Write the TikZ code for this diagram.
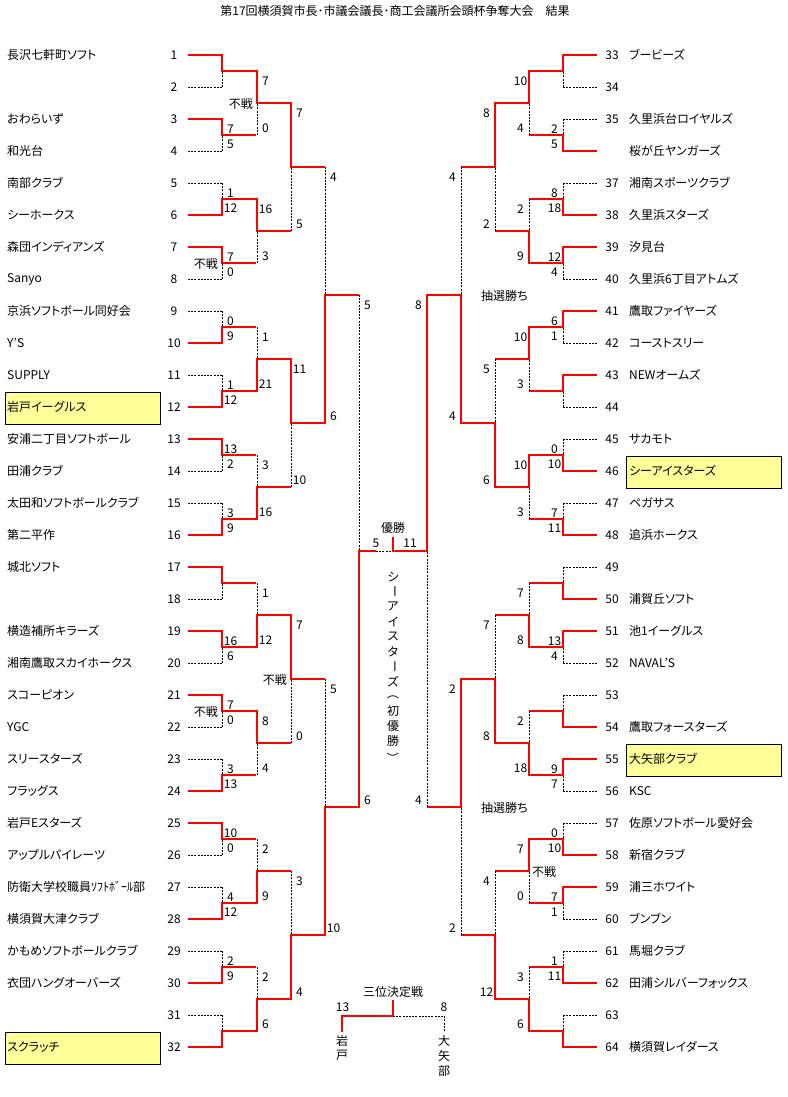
\documentclass[tikz,border=0pt]{standalone}
\usepackage{fontspec}
\setmainfont[RawFeature=+palt]{Noto Sans CJK JP}

\definecolor{hiyellow}{HTML}{FFFF99}

\tikzset{
  win/.style={red, line width=2.6pt},
  lose/.style={black, line width=0.9pt, dash pattern=on 2pt off 1.2pt},
  hilite/.style={draw=black, line width=1pt, fill=hiyellow},
}

\newcommand{\bmatch}[4]{%
  \pgfmathsetmacro{\bmid}{(#2+#3)/2}
  \draw[win] (#1-34*#4,#2) -- (#1,#2) -- (#1,\bmid) -- (#1+34*#4,\bmid);
  \draw[lose] (#1,#3) -- (#1,\bmid);
}
\newcommand{\bleaf}[4]{%
  \bmatch{#1}{#2}{#3}{#4}
  \draw[lose] (#1-34*#4,#3) -- (#1,#3);
}
\newcommand{\bscore}[6]{%
  \pgfmathsetmacro{\wy}{ifthenelse(#2<#3,#2+10,#2-6.5)}
  \pgfmathsetmacro{\ly}{ifthenelse(#3<#2,#3+10,#3-6.5)}
  \node (sw#1-#2) at (#1+8.5*#6,\wy) {#4};
  \node (sl#1-#3) at (#1+8.5*#6,\ly) {#5};
}

\begin{document}
\begin{tikzpicture}[x=1pt, y=-1pt, font=\fontsize{12}{14}\selectfont,
  every node/.style={inner sep=0pt}]

\useasboundingbox (0,0) rectangle (787,1097);

\node (title) at (395,11) {第17回横須賀市長･市議会議長･商工会議所会頭杯争奪大会　結果};

\foreach \y in {407,1047} \draw[hilite] (5,\y-15) rectangle (160.5,\y+17);
\foreach \y in {471,759} \draw[hilite] (626,\y-15) rectangle (781.5,\y+17);

\foreach \k in {1,...,32} \node (ln\k) at (174,{55+32*(\k-1)}) {\k};
\foreach \k in {33,34,35,37,38,...,64} \node (rn\k) at (612,{55+32*(\k-33)}) {\k};

\foreach \k/\t in {1/長沢七軒町ソフト, 3/おわらいず, 4/和光台, 5/南部クラブ, 6/シーホークス,
  7/森団インディアンズ, 8/Sanyo, 9/京浜ソフトボール同好会, 10/Y’S, 11/SUPPLY, 12/岩戸イーグルス,
  13/安浦二丁目ソフトボール, 14/田浦クラブ, 15/太田和ソフトボールクラブ, 16/第二平作, 17/城北ソフト,
  19/横造補所キラーズ, 20/湘南鷹取スカイホークス, 21/スコーピオン, 22/YGC, 23/スリースターズ,
  24/フラッグス, 25/岩戸Eスターズ, 26/アップルパイレーツ, 27/防衛大学校職員ｿﾌﾄﾎﾞｰﾙ部,
  28/横須賀大津クラブ, 29/かもめソフトボールクラブ, 30/衣団ハングオーバーズ, 32/スクラッチ}
  \node[anchor=west] (lt\k) at (7,{55+32*(\k-1)}) {\t};

\foreach \k/\t in {33/ブービーズ, 35/久里浜台ロイヤルズ, 36/桜が丘ヤンガーズ, 37/湘南スポーツクラブ,
  38/久里浜スターズ, 39/汐見台, 40/久里浜6丁目アトムズ, 41/鷹取ファイヤーズ, 42/コーストスリー,
  43/NEWオームズ, 45/サカモト, 46/シーアイスターズ, 47/ペガサス, 48/追浜ホークス, 50/浦賀丘ソフト,
  51/池1イーグルス, 52/NAVAL’S, 54/鷹取フォースターズ, 55/大矢部クラブ, 56/KSC,
  57/佐原ソフトボール愛好会, 58/新宿クラブ, 59/浦三ホワイト, 60/ブンブン, 61/馬堀クラブ,
  62/田浦シルバーフォックス, 64/横須賀レイダース}
  \node[anchor=west] (rt\k) at (629,{55+32*(\k-33)}) {\t};

\foreach \w/\l in {55/87, 119/151, 215/183, 247/279, 343/311, 407/375, 439/471, 535/503,
  567/599, 631/663, 695/727, 791/759, 823/855, 919/887, 983/951, 1047/1015}
  \bleaf{222}{\w}{\l}{1};
\foreach \w/\l in {71/135, 199/263, 391/327, 519/455, 647/583, 711/775, 903/839, 1031/967}
  \bmatch{257}{\w}{\l}{1};
\foreach \w/\l in {103/231, 359/487, 615/743, 999/871} \bmatch{291}{\w}{\l}{1};
\foreach \w/\l in {423/167, 935/679} \bmatch{325}{\w}{\l}{1};

\foreach \w/\l in {55/87, 151/119, 215/183, 247/279, 311/343, 375/407, 471/439, 535/503,
  599/567, 631/663, 727/695, 759/791, 855/823, 887/919, 983/951, 1047/1015}
  \bleaf{563}{\w}{\l}{-1};
\foreach \w/\l in {71/135, 263/199, 327/391, 455/519, 647/583, 775/711, 839/903, 1031/967}
  \bmatch{529}{\w}{\l}{-1};
\foreach \w/\l in {103/231, 487/359, 743/615, 999/871} \bmatch{495}{\w}{\l}{-1};
\foreach \w/\l in {423/167, 679/935} \bmatch{461}{\w}{\l}{-1};

\draw[win] (325,807) -- (359,807) -- (359,551) -- (376,551);
\draw[lose] (376,551) -- (393,551);
\draw[lose] (359,295) -- (359,551);
\draw[win] (461,295) -- (427,295) -- (427,551) -- (393,551) -- (393,537);
\draw[lose] (427,807) -- (427,551);

\foreach \w/\l/\a/\b in {119/151/7/5, 215/183/12/1, 247/279/7/0, 343/311/9/0, 407/375/12/1,
  439/471/13/2, 535/503/9/3, 631/663/16/6, 695/727/7/0, 791/759/13/3, 823/855/10/0,
  919/887/12/4, 983/951/9/2}
  \bscore{222}{\w}{\l}{\a}{\b}{1};
\foreach \w/\l/\a/\b in {71/135/7/0, 199/263/16/3, 391/327/21/1, 519/455/16/3, 647/583/12/1,
  711/775/8/4, 903/839/9/2, 1031/967/6/2}
  \bscore{257}{\w}{\l}{\a}{\b}{1};
\foreach \w/\l/\a/\b in {103/231/7/5, 359/487/11/10, 615/743/7/0, 999/871/4/3}
  \bscore{291}{\w}{\l}{\a}{\b}{1};
\foreach \w/\l/\a/\b in {423/167/6/4, 935/679/10/5} \bscore{325}{\w}{\l}{\a}{\b}{1};
\bscore{359}{807}{295}{6}{5}{1};

\foreach \w/\l/\a/\b in {151/119/5/2, 215/183/18/8, 247/279/12/4, 311/343/6/1, 471/439/10/0,
  535/503/11/7, 631/663/13/4, 759/791/9/7, 855/823/10/0, 887/919/7/1, 983/951/11/1}
  \bscore{563}{\w}{\l}{\a}{\b}{-1};
\foreach \w/\l/\a/\b in {71/135/10/4, 263/199/9/2, 327/391/10/3, 455/519/10/3, 647/583/8/7,
  775/711/18/2, 839/903/7/0, 1031/967/6/3}
  \bscore{529}{\w}{\l}{\a}{\b}{-1};
\foreach \w/\l/\a/\b in {103/231/8/2, 487/359/6/5, 743/615/8/7, 999/871/12/4}
  \bscore{495}{\w}{\l}{\a}{\b}{-1};
\foreach \w/\l/\a/\b in {423/167/4/4, 679/935/2/2} \bscore{461}{\w}{\l}{\a}{\b}{-1};
\bscore{427}{295}{807}{8}{4}{-1};

\node[anchor=east] (bye1) at (253,104) {不戦};
\node[anchor=east] (bye2) at (218,264) {不戦};
\node[anchor=east] (bye3) at (218,712) {不戦};
\node[anchor=east] (bye4) at (287,680) {不戦};
\node[anchor=west] (bye5) at (532,872) {不戦};
\node[anchor=west] (lot1) at (481,296) {抽選勝ち};
\node[anchor=west] (lot2) at (481,808) {抽選勝ち};

\node (champ) at (393,528) {優勝};
\node (fin1) at (376,543) {5};
\node (fin2) at (410,543) {11};
\foreach \i/\c/\r in {0/シ/0, 1/ー/-90, 2/ア/0, 3/イ/0, 4/ス/0, 5/タ/0, 6/ー/-90, 7/ズ/0,
  8/（/-90, 9/初/0, 10/優/0, 11/勝/0, 12/）/-90}
  \node[rotate=\r] (win\i) at (393,{577+14.9*\i}) {\c};

\node (third) at (393,992) {三位決定戦};
\node (thi1) at (342.5,1007.5) {13};
\node (thi2) at (444,1007.5) {8};
\draw[win] (393,1000) -- (393,1016) -- (342,1016) -- (342,1032);
\draw[lose] (393,1016) -- (444,1016) -- (444,1032);
\foreach \i/\c in {0/岩, 1/戸} \node (iw\i) at (342,{1041+14*\i}) {\c};
\foreach \i/\c in {0/大, 1/矢, 2/部} \node (oy\i) at (444,{1041+15*\i}) {\c};
\end{tikzpicture}
\end{document}
